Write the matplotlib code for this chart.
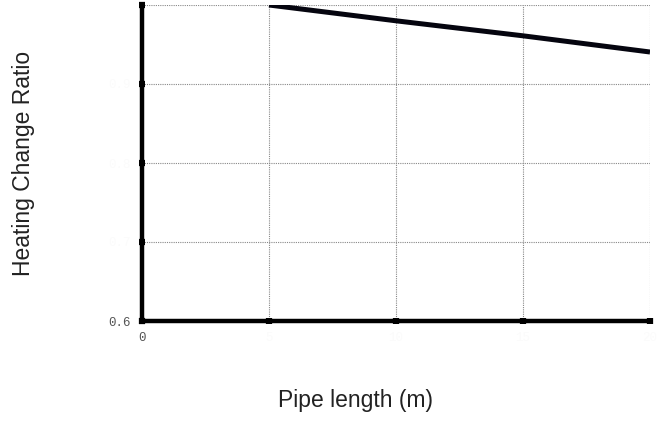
import matplotlib
matplotlib.use("Agg")
import matplotlib.pyplot as plt

pipe_length = [5, 10, 15, 20]
heating_ratio = [1.0, 0.98, 0.961, 0.9405]
x_ticks = [0, 5, 10, 15, 20]
x_tick_labels = ["0", "5", "10", "15", "20"]
y_ticks = [0.6, 0.7, 0.8, 0.9, 1.0]
y_tick_labels = ["0.6", "0.7", "0.8", "0.9", ""]

fig = plt.figure(figsize=(6.58, 4.43), dpi=100)
ax = fig.add_axes([142/658, 1 - 321/443, (650-142)/658, (321-5)/443])

ax.plot(pipe_length, heating_ratio, color="#05050f", lw=3.6, solid_capstyle="butt", zorder=3)

ax.set_xlim(0, 20)
ax.set_ylim(0.6, 1.0)
ax.set_xticks(x_ticks)
ax.set_yticks(y_ticks)
ax.set_xticklabels(x_tick_labels, family="Liberation Mono", fontsize=9)
ax.set_yticklabels(y_tick_labels, family="Liberation Mono", fontsize=9)
for i, lab in enumerate(ax.get_xticklabels()):
    lab.set_color("#555555" if i == 0 else "#fbfbfb")
for i, lab in enumerate(ax.get_yticklabels()):
    lab.set_color("#555555" if i == 0 else "#fbfbfb")

ax.grid(True, color="#888888", linestyle=(0, (1, 1)), linewidth=0.8)
ax.set_axisbelow(True)

for s in ["left", "bottom"]:
    ax.spines[s].set_linewidth(3.2)
    ax.spines[s].set_color("black")
for s in ["top", "right"]:
    ax.spines[s].set_visible(False)

ax.tick_params(direction="inout", length=4, width=4.5, color="black", pad=6)

ax.set_ylabel("Heating Change Ratio", family="Liberation Sans", fontsize=16.5,
              color="#222222", va="center", ha="center")
ax.set_xlabel("Pipe length (m)", family="Liberation Sans", fontsize=16.5,
              color="#222222", va="center", ha="center")
ax.yaxis.set_label_coords((24 - 142) / 508, 0.5)
ax.xaxis.set_label_coords((355 - 142) / 508, (321 - 400) / 316)

fig.savefig("out.png", dpi=100)
